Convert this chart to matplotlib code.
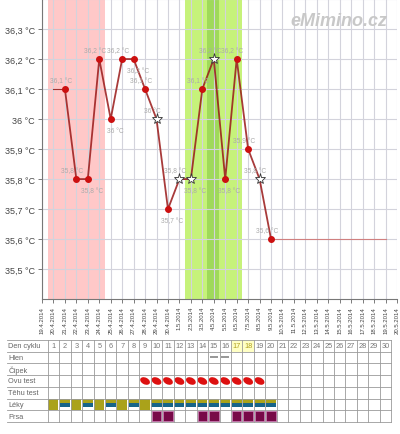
import matplotlib.pyplot as plt
from matplotlib.patches import Rectangle, Ellipse

plt.rcParams['font.family'] = ['Liberation Sans', 'DejaVu Sans']

# data
datumy = [f"{d}.4.2014" for d in range(19, 31)] + [f"{d}.5.2014" for d in range(1, 21)]
teploty = [36.1, 35.8, 35.8, 36.2, 36.0, 36.2, 36.2, 36.1, 36.0, 35.7,
           35.8, 35.8, 36.1, 36.2, 35.8, 36.2, 35.9, 35.8, 35.6]
prvni_den = 2          # index of 21.4.2014
hvezdy = [False, False, False, False, False, False, False, False, True, False,
          True, True, False, True, False, False, False, True, False]
popisek_nahore = [True, True, False, True, False, True, False, True, True, False,
                  True, False, True, True, False, True, True, True, True]
konec_cary = 30        # 19.5.2014

menstruace = [1, 2, 3, 4, 5]
plodne_dny = [13, 14, 15, 16, 17]
ovulace = 15

radky = ["Den cyklu", "Hlen", "Čípek", "Ovu test", "Těhu test", "Léky", "Prsa"]
dny_cyklu = list(range(1, 31))
zvyraznene_dny = [17, 18]
hlen = [15, 16]
ovu_test = [9, 10, 11, 12, 13, 14, 15, 16, 17, 18, 19]
leky_cele = [1, 3, 5, 7, 9]
leky_pul = [2, 4, 6, 8, 10, 11, 12, 13, 14, 15, 16, 17, 18, 19, 20]
prsa = [10, 11, 14, 15, 17, 18, 19, 20]


def fmt(v):
    return ('%g' % v).replace('.', ',') + ' °C'


fig = plt.figure(figsize=(4, 4.35), dpi=100)
ax = fig.add_axes([0.105, 0.31, 0.8875, 0.69])
ax.set_xlim(0, len(datumy) - 1)
ax.set_ylim(35.4, 36.4)

ax.axvspan(menstruace[0] - 0.5, menstruace[-1] + 0.5, color='#ffc8c8', lw=0, zorder=0)
ax.axvspan(plodne_dny[0] - 0.5, plodne_dny[-1] + 0.5, color='#c6f27a', lw=0, zorder=0)
ax.axvspan(ovulace - 0.55, ovulace + 0.45, color='#9fd95a', lw=0, zorder=0)

ax.set_xticks(range(len(datumy)))
ax.set_xticklabels(datumy, rotation=90, fontsize=4.3, color='#444')
yt = [35.5, 35.6, 35.7, 35.8, 35.9, 36.0, 36.1, 36.2, 36.3]
ax.set_yticks(yt)
ax.set_yticklabels([fmt(v) for v in yt], fontsize=6.5, color='#444')
ax.grid(color='#d3d3dc', lw=0.8, zorder=1)
ax.axhline(36.4, color='#d3d3dc', lw=0.8, zorder=1)
ax.tick_params(length=3, width=0.6, color='#666', pad=2)
for s in ['top', 'right']:
    ax.spines[s].set_visible(False)
for s in ['left', 'bottom']:
    ax.spines[s].set_color('#777')

xs = list(range(prvni_den, prvni_den + len(teploty)))
ax.plot([prvni_den - 1, prvni_den], [teploty[0]] * 2, color='#a03030', lw=0.8, zorder=2)
ax.plot([xs[-1], konec_cary], [teploty[-1]] * 2, color='#d08080', lw=0.8, zorder=2)
ax.plot(xs, teploty, color='#991818', lw=1.3, alpha=0.85, zorder=3)
for x, t, h, nah in zip(xs, teploty, hvezdy, popisek_nahore):
    if h:
        ax.plot(x, t, marker='*', ms=8, mfc='white', mec='#333', mew=0.6, zorder=4)
    else:
        ax.plot(x, t, marker='o', ms=4, color='#cc1010', zorder=4)
    ax.annotate(fmt(t), (x, t), xytext=(-3 if nah else 3, 6 if nah else -8),
                textcoords='offset points', ha='center', va='center',
                fontsize=4.8, color='#aaaaaa', zorder=5)

ax.text(0.972, 0.927, 'eMimino.cz', transform=ax.transAxes, ha='right', va='center',
        fontsize=13, fontweight='bold', fontstyle='italic', color='#c8c8c8')

# table
tb = fig.add_axes([0.105, 1 - 423 / 435, 0.8875, 82 / 435])
tb.set_xlim(0, len(datumy) - 1)
tb.set_ylim(len(radky), 0)
tb.axis('off')
x0 = -3.05
xend = dny_cyklu[-1] + 0.5
for d in zvyraznene_dny:
    tb.add_patch(Rectangle((d - 0.5, 0), 1, 1, color='#ffffc4', lw=0))
for r in range(len(radky) + 1):
    tb.plot([x0, xend], [r, r], color='#9a9a9a', lw=0.6, clip_on=False)
for c in range(len(dny_cyklu) + 1):
    tb.plot([c + 0.5, c + 0.5], [0, len(radky)], color='#9a9a9a', lw=0.6, clip_on=False)
for r, nazev in enumerate(radky):
    tb.text(x0 + 0.1, r + 0.5, nazev, ha='left', va='center', fontsize=5.3,
            color='#666', clip_on=False)
for d in dny_cyklu:
    tb.text(d, 0.5, str(d), ha='center', va='center', fontsize=5.3,
            color='#b0a020' if d in zvyraznene_dny else '#777')
for d in hlen:
    tb.add_patch(Rectangle((d - 0.35, 1.38), 0.7, 0.14, color='#999', lw=0))
for d in ovu_test:
    tb.add_patch(Ellipse((d, 3.5), 0.9, 0.58, angle=25, color='#dd1010', lw=0))
for d in leky_cele:
    tb.add_patch(Rectangle((d - 0.44, 5.06), 0.88, 0.88, color='#aaa21a', lw=0))
for d in leky_pul:
    tb.add_patch(Rectangle((d - 0.44, 5.06), 0.88, 0.34, color='#aaa21a', lw=0))
    tb.add_patch(Rectangle((d - 0.44, 5.4), 0.88, 0.34, color='#176489', lw=0))
for d in prsa:
    tb.add_patch(Rectangle((d - 0.42, 6.08), 0.84, 0.84, facecolor='#780a48',
                           edgecolor='#c070a8', lw=0.6))

fig.savefig('out.png', dpi=100)
